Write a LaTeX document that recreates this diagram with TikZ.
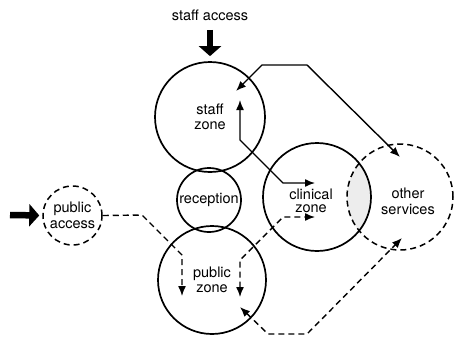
\documentclass[tikz,border=0pt]{standalone}
\usepackage{fontspec}
\setmainfont{TeX Gyre Heros}
\usetikzlibrary{positioning,arrows.meta}

\tikzset{
  zone/.style={circle, draw, line width=1.7pt, inner sep=0pt, align=center,
    font=\fontsize{14.5}{15.5}\selectfont},
  openzone/.style={zone, line width=1.5pt, dash pattern=on 6pt off 4pt},
  flow/.style={line width=1.4pt, {Latex[length=10pt,width=8pt]}-{Latex[length=10pt,width=8pt]}},
  oneway/.style={line width=1.4pt, -{Latex[length=10pt,width=8pt]}},
  dflow/.style={flow, dash pattern=on 6pt off 4pt},
  doneway/.style={oneway, dash pattern=on 6pt off 4pt},
  entry/.style={line width=6.5pt, -{Triangle[length=10pt,width=22pt]}}
}

\begin{document}
\begin{tikzpicture}[x=1pt, y=-1pt]
    \useasboundingbox (0,0) rectangle (454,338);

    % overlap of clinical zone and other services
    \begin{scope}
        \clip (317,197) circle[radius=54pt];
        \fill[gray!14] (400,197) circle[radius=53pt];
    \end{scope}

    % zones
    \node[zone, minimum size=110pt] (staffzone) at (210,117) {staff\\zone};
    \node[zone, minimum size=64pt] (reception) at (209,200) {reception};
    \node[zone, minimum size=108pt] (publiczone) at (212,280) {public\\zone};
    \node[zone, minimum size=108pt] (clinical) at (317,197) {};
    \node[align=center, font=\fontsize{14.5}{13}\selectfont] (clinicallabel) at (311,201) {clinical\\zone};
    \node[openzone, minimum size=106pt] (other) at (400,197) {};
    \node[align=center, font=\fontsize{14.5}{16}\selectfont] (otherlabel) at (408,201) {other\\services};
    \node[openzone, minimum size=59pt] (publicaccess) at (72.5,215.5) {public\\access};

    % access points
    \node[font=\fontsize{14.5}{16}\selectfont] (staffaccess) at (210,15) {staff access};
    \draw[entry, shorten <=6pt, shorten >=5pt] (staffaccess.south) -- (staffzone.north);
    \coordinate (publicin) at (10,215);
    \draw[entry, shorten >=3pt] (publicin) -- (publicaccess.west);

    % staff movements
    \coordinate (s1) at (236,91);
    \coordinate (s2) at (262,65);
    \coordinate (s3) at (307,65);
    \coordinate (s4) at (400,157);
    \draw[flow] (s1) -- (s2) -- (s3) -- (s4);

    \coordinate (c1) at (240,100);
    \coordinate (c2) at (240,140);
    \coordinate (c3) at (283,183);
    \coordinate (c4) at (315,183);
    \draw[flow] (c1) -- (c2) -- (c3) -- (c4);

    % public movements
    \coordinate (p1) at (142,215);
    \coordinate (p2) at (182,255);
    \coordinate (p3) at (182,296);
    \draw[doneway] (publicaccess.east) -- (p1) -- (p2) -- (p3);

    \coordinate (q1) at (240,297);
    \coordinate (q2) at (240,260);
    \coordinate (q3) at (283,217);
    \coordinate (q4) at (315,217);
    \draw[dflow] (q1) -- (q2) -- (q3) -- (q4);

    \coordinate (r1) at (240,307);
    \coordinate (r2) at (268,334);
    \coordinate (r3) at (307,334);
    \coordinate (r4) at (402,238);
    \draw[dflow] (r1) -- (r2) -- (r3) -- (r4);
\end{tikzpicture}
\end{document}
